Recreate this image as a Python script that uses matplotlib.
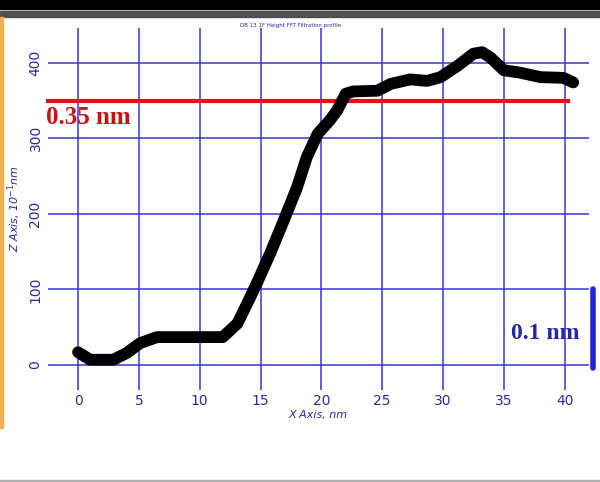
import matplotlib.pyplot as plt
from matplotlib.patches import Rectangle

# Height profile
x_nm = [0, 1.0, 2.9, 4.0, 5.1, 6.5, 8.0, 10.0, 11.9, 13.1, 14.1, 14.8, 15.8, 16.9,
        18.0, 18.8, 19.7, 20.7, 21.3, 22.0, 22.6, 24.6, 25.7, 27.3, 28.7, 29.8,
        31.2, 32.5, 33.2, 33.9, 35.0, 36.3, 38.0, 39.9, 40.7]
z_vals = [17, 7, 7, 16, 29, 37, 37, 37, 37, 55, 88, 112, 148, 191,
          235, 275, 306, 324, 337, 359, 362, 363, 372, 378, 376, 381,
          396, 412, 414, 407, 390, 387, 381, 380, 374]

x_ticks = [0, 5, 10, 15, 20, 25, 30, 35, 40]
z_ticks = [0, 100, 200, 300, 400]
step_level = 350      # 0.35 nm
scale_bar = [-4, 100]  # 0.1 nm

grid_blue = '#3535d8'
label_blue = '#2a2a9c'

fig = plt.figure(figsize=(6, 4.82), dpi=100)
fig.patch.set_facecolor('white')

# screenshot frame: black band on top, gray rule, orange left edge
fig.patches.append(Rectangle((0, 1 - 9 / 482), 1, 9 / 482, transform=fig.transFigure,
                             color='black', zorder=0))
fig.patches.append(Rectangle((0, 1 - 17 / 482), 1, 6 / 482, transform=fig.transFigure,
                             color='#505050', zorder=0))
fig.patches.append(Rectangle((0, 1 - 428 / 482), 3 / 600, 411 / 482, transform=fig.transFigure,
                             color='#f2b050', zorder=0))
fig.patches.append(Rectangle((0, 0), 1, 2 / 482, transform=fig.transFigure,
                             color='#b0b0b0', zorder=0))

ax = fig.add_axes([48 / 600, 1 - 390 / 482, 541 / 600, 362 / 482])
ax.set_xlim(-2.47, 42.0)
ax.set_ylim(-33, 446)
for s in ax.spines.values():
    s.set_visible(False)
ax.set_facecolor('none')

ax.set_xticks(x_ticks)
ax.set_yticks(z_ticks)
ax.tick_params(length=0, colors=label_blue, labelsize=10)
ax.tick_params(axis='x', pad=3)
ax.tick_params(axis='y', pad=4)
for lab in ax.get_yticklabels():
    lab.set_rotation(90)
    lab.set_va('center')
ax.grid(True, color=grid_blue, linewidth=1.1)
ax.set_axisbelow(True)

ax.plot(x_nm, z_vals, color='black', linewidth=8.5, solid_capstyle='round',
        solid_joinstyle='round', zorder=3)
ax.plot([-2.47, 40.3], [step_level, step_level], color='#e01515', linewidth=3, zorder=2,
        clip_on=False)
ax.plot([42.35, 42.35], scale_bar, color='#2323d8', linewidth=4, solid_capstyle='round',
        clip_on=False, zorder=3)

ax.text(-2.6, 327, '0.35 nm', color='#c41414', fontsize=18, fontweight='bold',
        family='Liberation Serif', ha='left', va='center', zorder=4)
ax.text(38.4, 42, '0.1 nm', color='#2525b0', fontsize=17, fontweight='bold',
        family='Liberation Serif', ha='center', va='center', zorder=4)

ax.set_xlabel('X Axis, nm', color=label_blue, fontsize=8, style='italic', labelpad=1)
ax.set_ylabel('Z Axis, 10$^{-1}$nm', color=label_blue, fontsize=8, style='italic', labelpad=4)
fig.text(290 / 600, 1 - 26 / 482, 'DB 13 1F Height FFT Filtration profile', color=label_blue,
         fontsize=4, ha='center', va='center')

fig.savefig('out.png', dpi=100)
